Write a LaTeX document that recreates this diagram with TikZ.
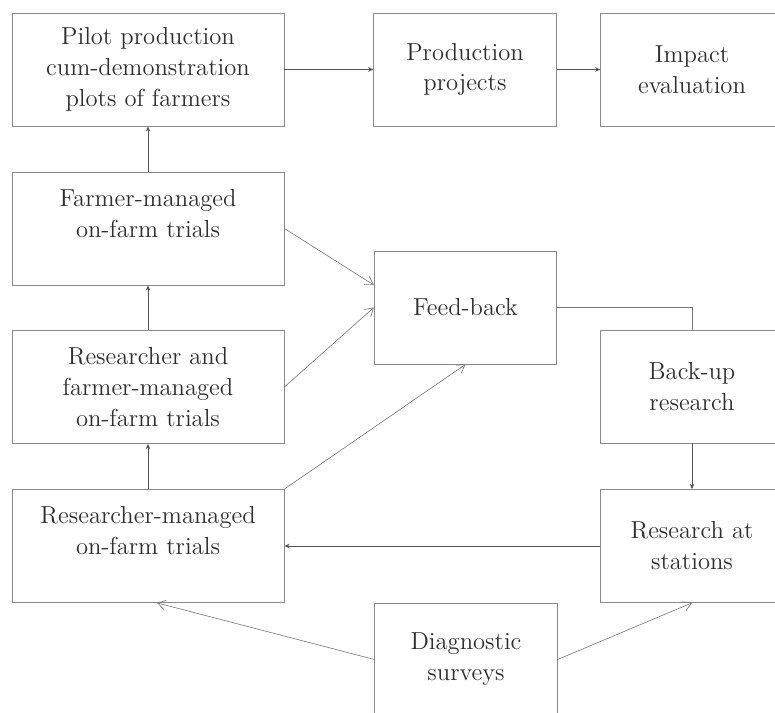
\documentclass[tikz,border=0pt]{standalone}
\usepackage{tikz}
\usetikzlibrary{arrows.meta}
\definecolor{box-border}{HTML}{8A8A8A}
\definecolor{edge}{HTML}{555555}
\definecolor{label}{HTML}{2E2E2E}
\tikzset{
  stagebox/.style={
    rectangle, draw=box-border, line width=0.45pt, inner sep=0pt,
    minimum height=2.26cm, align=center, text=label,
    font=\fontsize{14}{17.6}\selectfont
  },
  widebox/.style={stagebox, minimum width=5.44cm},
  narrowbox/.style={stagebox, minimum width=3.65cm},
  flow/.style={draw=edge, line width=0.5pt, -{Stealth[length=3pt, width=2.6pt]}},
  feed/.style={draw=edge!80, line width=0.35pt, -{Straight Barb[length=4.5pt, width=5.5pt]}},
  link/.style={draw=edge!80, line width=0.4pt}
}
\begin{document}
\begin{tikzpicture}[x=0.02cm, y=-0.02cm]

  \useasboundingbox (0,0) rectangle (775,713);
  \clip (0,0) rectangle (775,713);

  % ---- Top row -------------------------------------------------------------
  \node[widebox]   (pilot)   at (148, 69.5) {Pilot production\\cum-demonstration\\plots of farmers};
  \node[narrowbox] (prod)    at (465, 69.5) {Production\\projects};
  \node[narrowbox] (impact)  at (692, 69.5) {Impact\\evaluation};

  % ---- On-farm trials (left column) ----------------------------------------
  \node[widebox]   (farmer)  at (148, 228.5) {Farmer-managed\\on-farm trials\\\mbox{}};
  \node[widebox]   (rfm)     at (148, 387)   {Researcher and\\farmer-managed\\on-farm trials};
  \node[widebox]   (rm)      at (148, 546)   {Researcher-managed\\on-farm trials\\\mbox{}};

  % ---- Middle and right ----------------------------------------------------
  \node[narrowbox] (feedback) at (465.5, 307.5) {Feed-back};
  \node[narrowbox] (backup)   at (692, 386.5)   {Back-up\\research};
  \node[narrowbox] (station)  at (692, 546)     {Research at\\stations};
  \node[narrowbox] (diag)     at (466, 659.5)   {Diagnostic\\surveys};

  % ---- Main flow -----------------------------------------------------------
  \draw[flow] (pilot.east)  -- (prod.west);
  \draw[flow] (prod.east)   -- (impact.west);
  \draw[flow] (farmer.north) -- (pilot.south);
  \draw[flow] (rfm.north)   -- (farmer.south);
  \draw[flow] (rm.north)    -- (rfm.south);
  \draw[flow] (backup.south) -- (station.north);
  \draw[flow] (station.west) -- (rm.east);

  % ---- Feed-back loop ------------------------------------------------------
  \draw[feed] (farmer.east)     -- ([yshift=0.45cm]feedback.west);
  \draw[feed] (rfm.east)        -- (feedback.west);
  \draw[feed] (rm.north east)   -- (feedback.south);
  \draw[link] (feedback.east)   -| (backup.north);

  % ---- Surveys -------------------------------------------------------------
  \draw[feed] (diag.west) -- ([xshift=0.18cm]rm.south);
  \draw[feed] (diag.east) -- (station.south);

\end{tikzpicture}
\end{document}
